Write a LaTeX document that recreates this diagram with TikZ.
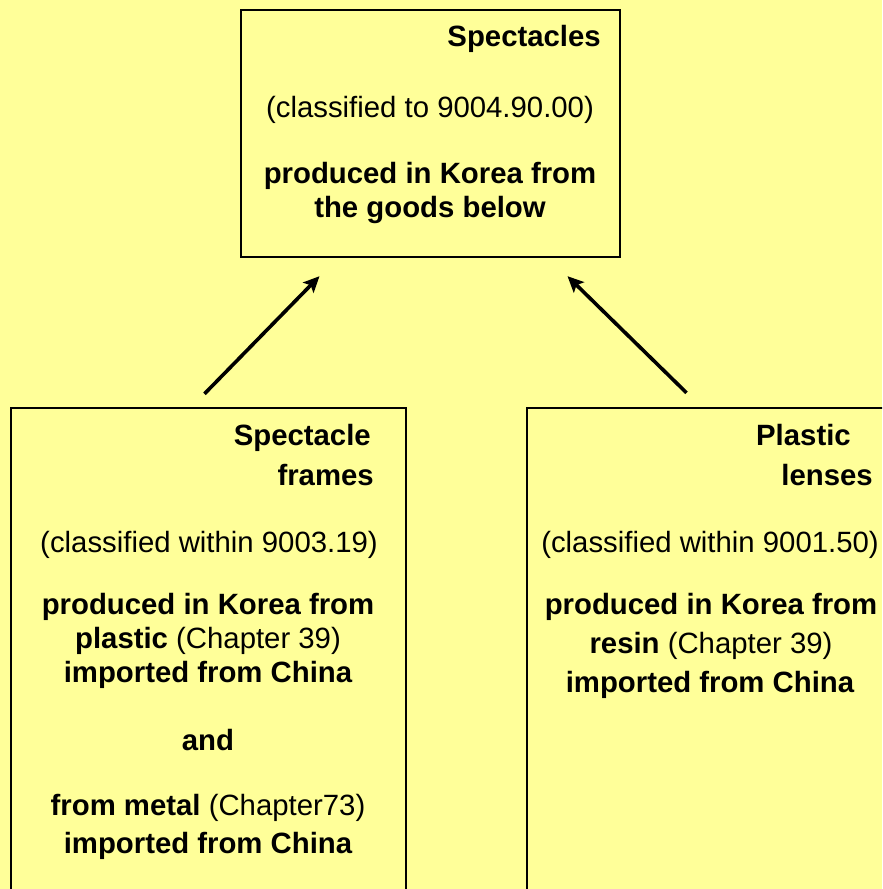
\documentclass[tikz,border=0pt]{standalone}
\usepackage{fontspec}
\setmainfont{Liberation Sans}
\usetikzlibrary{arrows.meta}
\definecolor{paper}{HTML}{FFFF99}

\begin{document}
\begin{tikzpicture}[x=0.75pt, y=-0.75pt,
    box/.style={draw, line width=1.8pt, inner sep=0pt},
    txt/.style={anchor=base, inner sep=0pt, font=\fontsize{22}{26}\selectfont\bfseries},
    ttl/.style={txt, anchor=base east},
    arr/.style={line width=2.7pt, -{Stealth[length=12pt, width=11pt, inset=2.5pt]}}]

% --------------------
% page
% --------------------
\useasboundingbox (0,0) rectangle (882,889);
\fill[paper] (0,0) rectangle (882,889);
\clip (0,0) rectangle (882,889);

% --------------------
% boxes
% --------------------
\node[box, minimum width=284.25pt, minimum height=185.25pt] (spec) at (430.5,133.5) {};
\node[box, minimum width=296.25pt, minimum height=376.5pt] (frames) at (208.5,659) {};
\node[box, minimum width=296.25pt, minimum height=376.5pt] (lenses) at (724.5,659) {};

% --------------------
% top box text
% --------------------
\node[ttl] (specT) at (601,46) {Spectacles};
\node[txt] (specC) at (430,117) {\textmd{(classified to 9004.90.00)}};
\node[txt] (specA) at (430,183) {produced in Korea from};
\node[txt] (specB) at (430,217) {the goods below};

% --------------------
% left box text
% --------------------
\node[ttl] (frT1) at (371,445) {Spectacle};
\node[ttl] (frT2) at (374,485) {frames};
\node[txt] (frC) at (209,552) {\textmd{(classified within 9003.19)}};
\node[txt] (frA) at (208,614) {produced in Korea from};
\node[txt] (frB) at (208,648) {plastic \textmd{(Chapter 39)}};
\node[txt] (frD) at (208,682) {imported from China};
\node[txt] (frE) at (208,750) {and};
\node[txt] (frF) at (208,815) {from metal \textmd{(Chapter73)}};
\node[txt] (frG) at (208,853) {imported from China};

% --------------------
% right box text
% --------------------
\node[ttl] (leT1) at (851,445) {Plastic};
\node[ttl] (leT2) at (873,485) {lenses};
\node[txt] (leC) at (710,552) {\textmd{(classified within 9001.50)}};
\node[txt] (leA) at (711,614) {produced in Korea from};
\node[txt] (leB) at (711,653) {resin \textmd{(Chapter 39)}};
\node[txt] (leD) at (710,692) {imported from China};

% --------------------
% arrows
% --------------------
\draw[arr] ([shift={(-4,-13)}]frames.north) -- ([shift={(-111,18)}]spec.south);
\draw[arr] ([shift={(-38,-14)}]lenses.north) -- ([shift={(137,18)}]spec.south);

\end{tikzpicture}
\end{document}
